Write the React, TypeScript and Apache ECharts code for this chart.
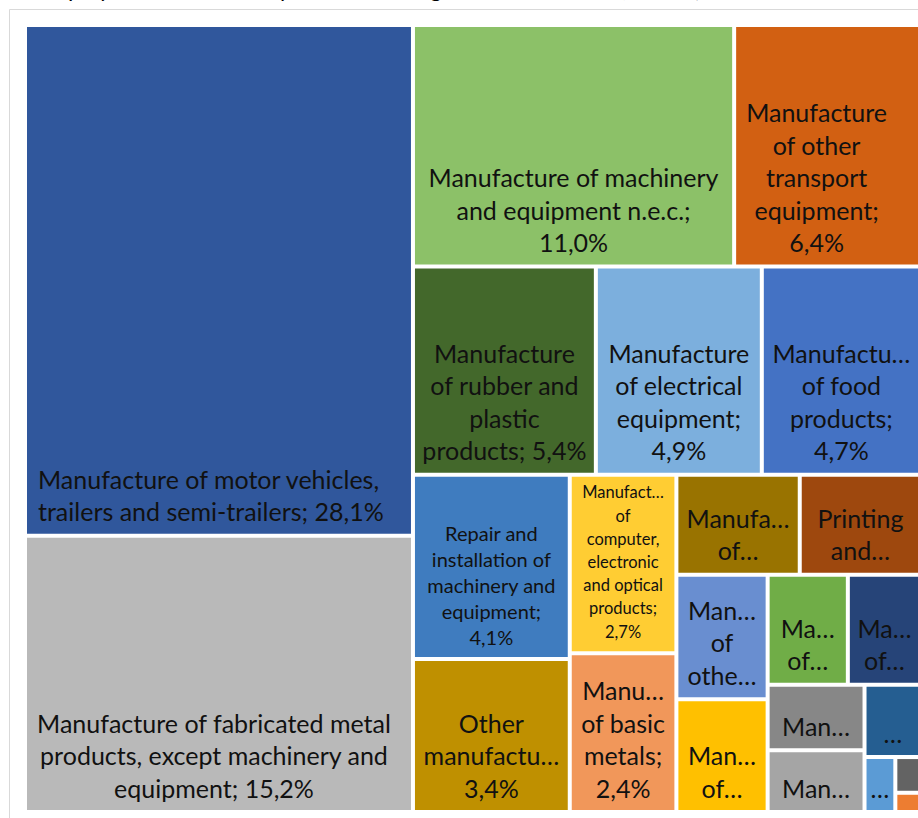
import React, { useEffect, useRef } from 'react';
import * as echarts from 'echarts';

// Manufacturing divisions (NACE order) and their share of employment (%)
const divisions = [
  'Manufacture of food products',
  'Manufacture of beverages',
  'Manufacture of textiles',
  'Manufacture of wearing apparel',
  'Manufacture of leather and related products',
  'Manufacture of wood and of products of wood and cork',
  'Manufacture of paper and paper products',
  'Printing and reproduction of recorded media',
  'Manufacture of coke and refined petroleum products',
  'Manufacture of chemicals and chemical products',
  'Manufacture of basic pharmaceutical products',
  'Manufacture of rubber and plastic products',
  'Manufacture of other non-metallic mineral products',
  'Manufacture of basic metals',
  'Manufacture of fabricated metal products, except machinery and equipment',
  'Manufacture of computer, electronic and optical products',
  'Manufacture of electrical equipment',
  'Manufacture of machinery and equipment n.e.c.',
  'Manufacture of motor vehicles, trailers and semi-trailers',
  'Manufacture of other transport equipment',
  'Manufacture of furniture',
  'Other manufacturing',
  'Repair and installation of machinery and equipment',
];

const shares = [
  4.7, 0.07, 0.85, 1.46, 0.24, 1.25, 1.14, 1.72, 0.13, 1.75, 0.58, 5.4,
  1.61, 2.4, 15.2, 2.7, 4.9, 11.0, 28.1, 6.4, 0.9, 3.4, 4.1,
];

// Label text as wrapped / truncated in the reference; {v} is replaced by the share
const displayLabels = [
  'Manufactu…\nof food\nproducts;\n{v}',
  '',
  'Man…',
  'Man…\nof…',
  '…',
  'Ma…\nof…',
  'Ma…\nof…',
  'Printing\nand…',
  '…',
  'Manufa…\nof…',
  '…',
  'Manufacture\nof rubber and\nplastic\nproducts; {v}',
  'Man…\nof\nothe…',
  'Manu…\nof basic\nmetals;\n{v}',
  'Manufacture of fabricated metal\nproducts, except machinery and\nequipment; {v}',
  'Manufact…\nof\ncomputer,\nelectronic\nand optical\nproducts;\n{v}',
  'Manufacture\nof electrical\nequipment;\n{v}',
  'Manufacture of machinery\nand equipment n.e.c.;\n{v}',
  'Manufacture of motor vehicles,\ntrailers and semi-trailers; {v}',
  'Manufacture\nof other\ntransport\nequipment;\n{v}',
  'Man…',
  'Other\nmanufactu…\n{v}',
  'Repair and\ninstallation of\nmachinery and\nequipment;\n{v}',
];

const colors = [
  '#4472C4', '#ED7D31', '#A5A5A5', '#FFC000', '#5B9BD5', '#70AD47', '#264478',
  '#9E480E', '#636363', '#997300', '#255E91', '#43682B', '#698ED0', '#F1975A',
  '#B9B9B9', '#FFCD33', '#7CAFDD', '#8CC168', '#30579C', '#D26012', '#878787',
  '#BF9000', '#3F7CBF',
];

const titleText =
  'Employment structure by manufacturing industries in total, 2021 (in % of total manufacturing)';

const FONT = 'Lato, "Open Sans", sans-serif';

function fmt(v: number): string {
  return v.toFixed(1).replace('.', ',') + '%';
}

export default function App() {
  const ref = useRef<HTMLDivElement>(null);

  useEffect(() => {
    if (!ref.current) return;
    const chart = echarts.init(ref.current, null, { renderer: 'svg' });

    const labelOverrides: Record<number, any> = {
      18: { position: 'insideBottomLeft', align: 'left', padding: [0, 4, 6, 11] },
      19: { padding: [0, 26, 6, 4] },
      14: { padding: [0, 14, 6, 4] },
      22: { fontSize: 20, lineHeight: 26, padding: [0, 4, 7, 4] },
      15: { fontSize: 16.5, lineHeight: 23.2, padding: [0, 4, 8, 4] },
    };

    const data = divisions.map((name, i) => {
      const item: any = { name, value: shares[i], itemStyle: { color: colors[i] } };
      if (labelOverrides[i]) item.label = labelOverrides[i];
      return item;
    });

    chart.setOption({
      animation: false,
      backgroundColor: '#ffffff',
      graphic: [
        {
          type: 'rect',
          silent: true,
          shape: { x: 9.5, y: 9.5, width: 1000, height: 1000 },
          style: { fill: 'none', stroke: '#D9D9D9', lineWidth: 1 },
        },
        {
          type: 'text',
          silent: true,
          x: 36,
          y: -1,
          style: {
            text: titleText,
            font: '23px ' + FONT,
            fill: '#000000',
            verticalAlign: 'bottom',
          },
        },
      ],
      series: [
        {
          type: 'treemap',
          left: 27,
          top: 27,
          width: 892,
          height: 783,
          roam: false,
          nodeClick: false,
          breadcrumb: { show: false },
          sort: 'desc',
          squareRatio: 0.95,
          visibleMin: 1,
          levels: [
            { itemStyle: { gapWidth: 4, borderWidth: 0, borderColor: '#ffffff' } },
          ],
          itemStyle: { borderWidth: 0 },
          label: {
            show: true,
            position: 'insideBottom',
            distance: 0,
            align: 'center',
            verticalAlign: 'bottom',
            padding: [0, 4, 6, 4],
            color: '#111111',
            fontFamily: FONT,
            fontSize: 25,
            lineHeight: 32.5,
            overflow: 'none',
            formatter: (p: any) => {
              const i = divisions.indexOf(p.name);
              if (i < 0) return '';
              return displayLabels[i].replace('{v}', fmt(Number(p.value)));
            },
          },
          emphasis: { disabled: true },
          data,
        },
      ],
    });

    return () => chart.dispose();
  }, []);

  return (
    <div
      ref={ref}
      style={{ position: 'fixed', left: 0, top: 0, width: 918, height: 818, background: '#fff' }}
    />
  );
}
